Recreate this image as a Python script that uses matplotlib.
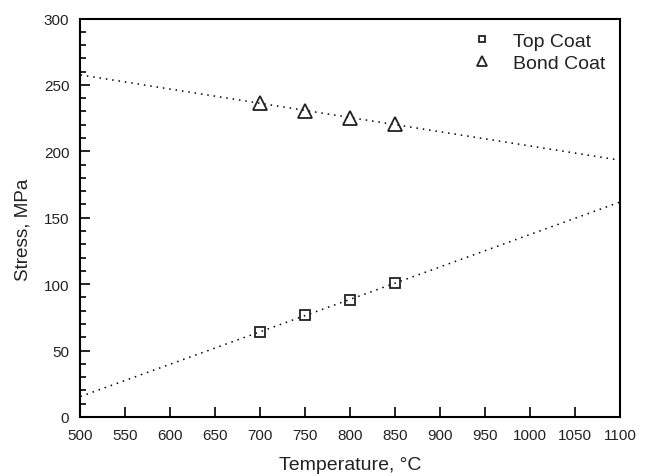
import numpy as np
import matplotlib
matplotlib.use("Agg")
import matplotlib.pyplot as plt
from matplotlib.ticker import MultipleLocator

plt.rcParams['font.family'] = ['Liberation Sans', 'DejaVu Sans']

temperature = [700, 750, 800, 850]
top_coat = [64, 77, 88, 101]
bond_coat = [236.5, 230.5, 225, 220.5]
fit_range = [500, 1100]
x_ticks = list(range(500, 1101, 50))
y_ticks = list(range(0, 301, 50))

fig = plt.figure(figsize=(6.58, 4.77), dpi=100)
ax = fig.add_axes([0.1223, 0.1237, 0.8199, 0.8354])

xf = np.array(fit_range, dtype=float)
for ys in (top_coat, bond_coat):
    p = np.polyfit(temperature, ys, 1)
    ax.plot(xf, np.polyval(p, xf), color='black', lw=1.1,
            linestyle=(0, (1, 3.2)), zorder=1)

ax.plot(temperature, top_coat, linestyle='none', marker='s', markersize=7.5,
        markerfacecolor='none', markeredgecolor='#222222', markeredgewidth=1.3,
        label='Top Coat', zorder=3)
ax.plot(temperature, bond_coat, linestyle='none', marker='^', markersize=10,
        markerfacecolor='none', markeredgecolor='#222222', markeredgewidth=1.3,
        label='Bond Coat', zorder=3)

ax.set_xlim(500, 1100)
ax.set_ylim(0, 300)
ax.set_xticks(x_ticks)
ax.set_yticks(y_ticks)
ax.yaxis.set_minor_locator(MultipleLocator(10))
ax.tick_params(axis='both', which='major', direction='in', length=7, width=1.2,
               labelsize=11, colors='black', labelcolor='#222222')
ax.tick_params(axis='x', pad=8)
ax.tick_params(axis='y', pad=8)
ax.tick_params(axis='y', which='minor', direction='in', length=4, width=1.2)
for s in ax.spines.values():
    s.set_linewidth(1.5)

ax.set_xlabel('Temperature, °C', fontsize=14, color='#222222', labelpad=10)
ax.set_ylabel('Stress, MPa', fontsize=13.6, color='#222222')
ax.yaxis.set_label_coords(-0.09, 0.472)

leg = ax.legend(loc='upper right', frameon=False, fontsize=14, markerscale=0.65,
                handletextpad=1.0, borderaxespad=0.3, labelspacing=0.25,
                handlelength=1.2, bbox_to_anchor=(0.998, 1.0))
for t in leg.get_texts():
    t.set_color('#222222')

fig.savefig('out.png', dpi=100)
